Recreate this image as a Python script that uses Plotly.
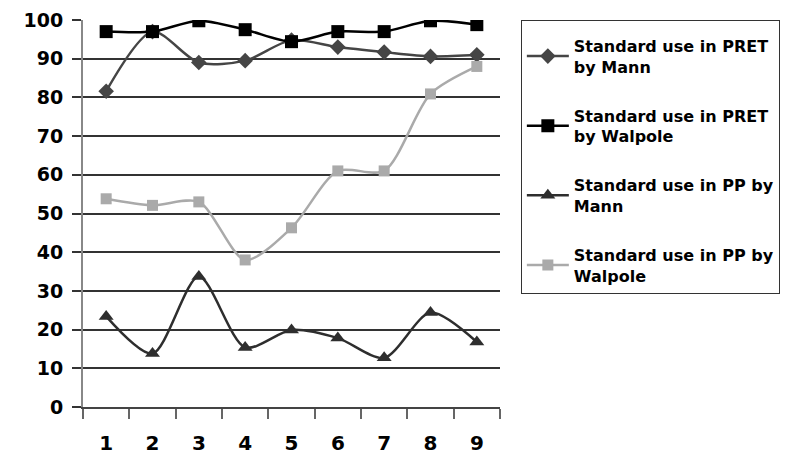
import plotly.graph_objects as go

categories = ["1", "2", "3", "4", "5", "6", "7", "8", "9"]
pret_mann = [81.6, 97, 89, 89.5, 94.8, 93, 91.7, 90.6, 91]
pret_walpole = [97, 97, 99.8, 97.5, 94.4, 97, 97, 99.8, 98.8]
pp_mann = [23.4, 13.8, 33.7, 15.4, 19.9, 17.8, 12.7, 24.4, 16.8]
pp_walpole = [53.8, 52.1, 53, 38, 46.3, 61, 61, 80.9, 88]
series_names = [
    "Standard use in PRET<br>by Mann",
    "Standard use in PRET<br>by Walpole",
    "Standard use in PP by<br>Mann",
    "Standard use in PP by<br>Walpole",
]
y_ticks = [0, 10, 20, 30, 40, 50, 60, 70, 80, 90, 100]

FONT = "DejaVu Sans"

fig = go.Figure()
styles = [
    (pret_mann, "#454545", "diamond", 12, 2.5),
    (pret_walpole, "#000000", "square", 13, 2.5),
    (pp_mann, "#2e2e2e", "triangle-up", 13, 2.5),
    (pp_walpole, "#aaaaaa", "square", 11, 2.5),
]
for i, (vals, col, sym, size, w) in enumerate(styles):
    fig.add_trace(go.Scatter(
        x=categories, y=vals, name=series_names[i],
        mode="lines+markers",
        line=dict(color=col, width=w, shape="spline", smoothing=0.8),
        marker=dict(symbol=sym, size=size, color=col),
        legendgroup=f"g{i}",
    ))

# page body adds an 8px offset, so the figure is 8px smaller
fig.update_layout(
    width=784, height=446,
    margin=dict(l=75, r=290, t=12, b=47),
    paper_bgcolor="white", plot_bgcolor="white",
    font=dict(family=FONT, color="black"),
    showlegend=True,
    legend=dict(
        x=1.05, y=1.0, xanchor="left", yanchor="top",
        bordercolor="#333333", borderwidth=1, bgcolor="white",
        font=dict(family=FONT, size=16, weight="bold"),
        tracegroupgap=25, itemwidth=42,
        title=dict(text=" ", font=dict(size=6)),
    ),
    xaxis=dict(
        type="category", tickson="boundaries", ticks="outside", ticklen=10,
        tickcolor="#666666", tickwidth=2,
        showline=True, linecolor="#444444", linewidth=2,
        showgrid=False, range=[-0.5, 8.5], automargin=False,
        tickfont=dict(family=FONT, size=20, weight="bold"),
        ticklabelstandoff=17, ticklabeloverflow="allow",
    ),
    yaxis=dict(
        range=[0, 100], tickvals=y_ticks, ticks="outside", ticklen=9,
        tickcolor="#333333", tickwidth=2,
        showgrid=True, gridcolor="#333333", gridwidth=2,
        showline=True, linecolor="#888888", linewidth=2,
        zeroline=False, automargin=False,
        tickfont=dict(family=FONT, size=19, weight="bold"),
        ticklabelstandoff=5, ticklabeloverflow="allow",
    ),
)

fig.write_html("out.html")
